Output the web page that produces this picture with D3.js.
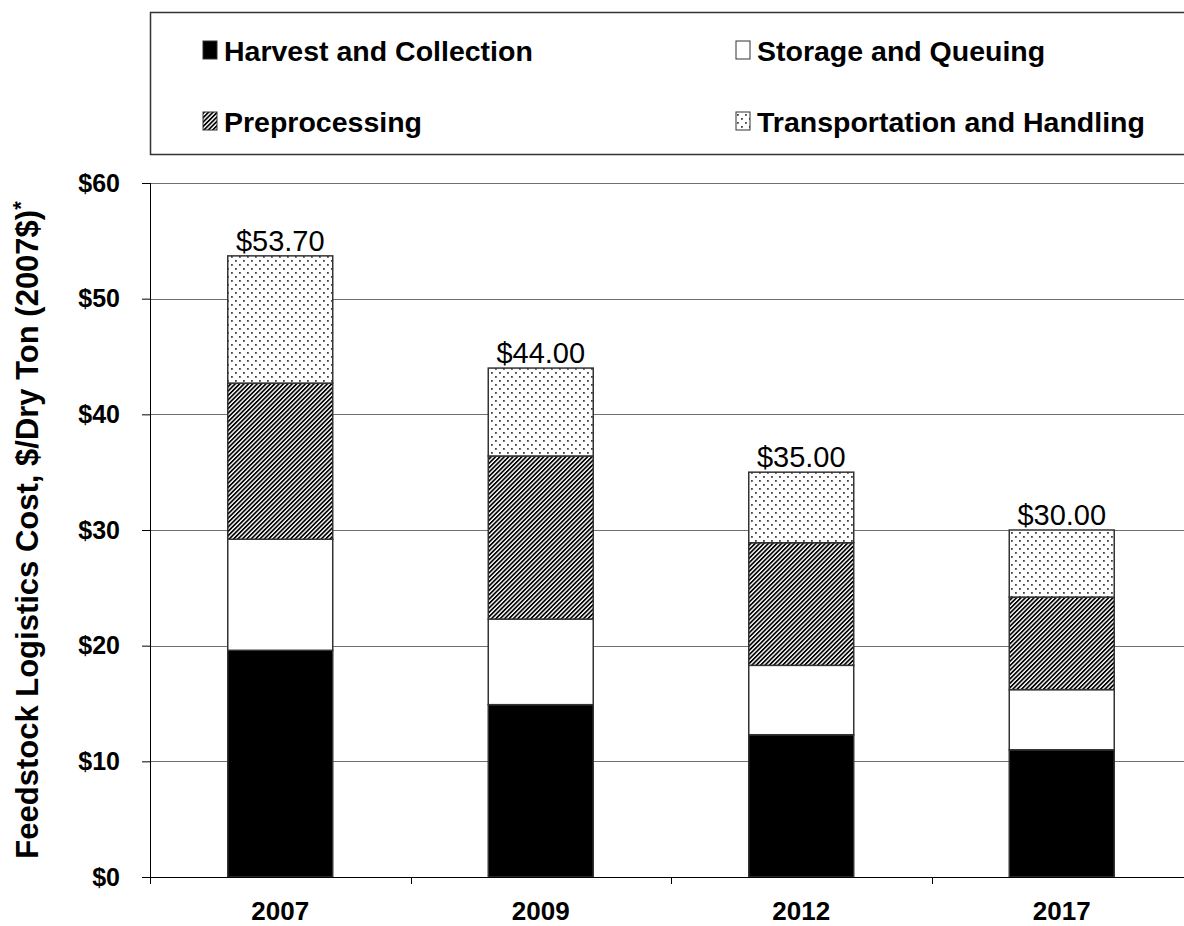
<!DOCTYPE html>
<html>
<head>
<meta charset="utf-8">
<script src="https://cdn.jsdelivr.net/npm/d3@7"></script>
<style>
  html, body { margin: 0; padding: 0; background: #fff; }
  svg { display: block; font-family: Arial, "Liberation Sans", sans-serif; }
</style>
</head>
<body>
<div id="chart"></div>
<script>
(function() {
    'use strict';

    // Data
    var years = ['2007', '2009', '2012', '2017'];
    var harvest = [19.6, 14.9, 12.3, 11.0];
    var storage = [9.6, 7.4, 6.0, 5.2];
    var preprocessing = [13.5, 14.1, 10.6, 8.0];
    var transport = [11.0, 7.6, 6.1, 5.8];
    var totalLabels = ['$53.70', '$44.00', '$35.00', '$30.00'];
    var yTicks = [0, 10, 20, 30, 40, 50, 60];
    var seriesNames = ['Harvest and Collection', 'Storage and Queuing', 'Preprocessing', 'Transportation and Handling'];

    var W = 1184, H = 926;
    var margin = { left: 150, top: 183, right: -8, bottom: 49 };
    var plotW = W - margin.left - margin.right;
    var plotH = H - margin.top - margin.bottom;

    var svg = d3.select('#chart').append('svg')
        .attr('width', W)
        .attr('height', H);

    // Patterns
    var defs = svg.append('defs');
    var hatch = defs.append('pattern')
        .attr('id', 'hatch')
        .attr('patternUnits', 'userSpaceOnUse')
        .attr('width', 3.1)
        .attr('height', 3.1)
        .attr('patternTransform', 'rotate(45)');
    hatch.append('rect').attr('width', 3.1).attr('height', 3.1).attr('fill', '#fff');
    hatch.append('rect').attr('width', 1.7).attr('height', 3.1).attr('fill', '#000');

    var dots = defs.append('pattern')
        .attr('id', 'dots')
        .attr('patternUnits', 'userSpaceOnUse')
        .attr('width', 8)
        .attr('height', 8);
    dots.append('rect').attr('width', 8).attr('height', 8).attr('fill', '#fff');
    dots.append('rect').attr('x', 1).attr('y', 1).attr('width', 1.8).attr('height', 1.8).attr('fill', '#444');
    dots.append('rect').attr('x', 5).attr('y', 5).attr('width', 1.8).attr('height', 1.8).attr('fill', '#444');

    var fills = ['#000', '#fff', 'url(#hatch)', 'url(#dots)'];

    var stackRows = years.map(function(y, i) {
        return { year: y, h: harvest[i], s: storage[i], p: preprocessing[i], t: transport[i] };
    });
    var stacked = d3.stack().keys(['h', 's', 'p', 't'])(stackRows);

    var x = d3.scaleBand().domain(years).range([0, plotW]).paddingInner(0.597).paddingOuter(0.2985);
    var y = d3.scaleLinear().domain([0, 60]).range([plotH, 0]);

    var g = svg.append('g').attr('transform', 'translate(' + margin.left + ',' + margin.top + ')');

    // Gridlines
    g.append('g').selectAll('line')
        .data(yTicks.filter(function(d) { return d > 0; }))
        .join('line')
        .attr('x1', 0).attr('x2', plotW)
        .attr('y1', function(d) { return Math.round(y(d)) + 0.5; })
        .attr('y2', function(d) { return Math.round(y(d)) + 0.5; })
        .attr('stroke', '#707070')
        .attr('stroke-width', 1);

    // Bars
    g.append('g').selectAll('g')
        .data(stacked)
        .join('g')
        .attr('fill', function(d, i) { return fills[i]; })
        .selectAll('rect')
        .data(function(d) { return d; })
        .join('rect')
        .attr('x', function(d) { return x(d.data.year); })
        .attr('width', x.bandwidth())
        .attr('y', function(d) { return y(d[1]); })
        .attr('height', function(d) { return y(d[0]) - y(d[1]); })
        .attr('stroke', '#333')
        .attr('stroke-width', 1.5);

    // Total labels
    g.append('g').selectAll('text')
        .data(stacked[3])
        .join('text')
        .attr('x', function(d) { return x(d.data.year) + x.bandwidth() / 2; })
        .attr('y', function(d) { return y(d[1]) - 5; })
        .attr('text-anchor', 'middle')
        .attr('font-size', 29)
        .attr('fill', '#000')
        .text(function(d, i) { return totalLabels[i]; });

    // Y axis
    var yAxis = g.append('g')
        .call(d3.axisLeft(y).tickValues(yTicks).tickSize(8).tickPadding(22)
            .tickFormat(function(d) { return '$' + d; }));
    yAxis.select('.domain').attr('stroke', '#000').attr('d', 'M0.5,0V' + plotH);
    yAxis.selectAll('.tick line').attr('stroke', '#000');
    yAxis.selectAll('.tick text')
        .attr('font-size', 25)
        .attr('font-weight', 'bold')
        .attr('font-family', 'Arial, "Liberation Sans", sans-serif')
        .attr('fill', '#000');

    // X axis with ticks at category boundaries
    var xAxis = g.append('g').attr('transform', 'translate(0,' + plotH + ')');
    xAxis.append('line')
        .attr('x1', 0).attr('x2', plotW).attr('y1', 0.5).attr('y2', 0.5)
        .attr('stroke', '#000');
    var step = x.step();
    xAxis.selectAll('.xt')
        .data(d3.range(years.length + 1))
        .join('line')
        .attr('class', 'xt')
        .attr('x1', function(d) { return Math.round(d * step) + 0.5; })
        .attr('x2', function(d) { return Math.round(d * step) + 0.5; })
        .attr('y1', 0).attr('y2', 7)
        .attr('stroke', '#000');
    xAxis.selectAll('.xl')
        .data(years)
        .join('text')
        .attr('class', 'xl')
        .attr('x', function(d) { return x(d) + x.bandwidth() / 2; })
        .attr('y', 43)
        .attr('text-anchor', 'middle')
        .attr('font-size', 26)
        .attr('font-weight', 'bold')
        .text(function(d) { return d; });

    // Y axis title
    var title = svg.append('text')
        .attr('transform', 'translate(38,' + (margin.top + plotH / 2) + ') rotate(-90)')
        .attr('text-anchor', 'middle')
        .attr('font-size', 31)
        .attr('font-weight', 'bold');
    title.append('tspan').text('Feedstock Logistics Cost, $/Dry Ton (2007$)');
    title.append('tspan').attr('dy', -10).attr('font-size', 22).text('*');

    // Legend box
    var legend = svg.append('g');
    legend.append('rect')
        .attr('x', 150.5).attr('y', 12.5)
        .attr('width', W).attr('height', 142)
        .attr('fill', '#fff')
        .attr('stroke', '#333')
        .attr('stroke-width', 1.5);

    var legendPos = [[203, 50], [736, 50], [203, 121], [736, 121]];
    var item = legend.selectAll('.li')
        .data(seriesNames)
        .join('g')
        .attr('class', 'li')
        .attr('transform', function(d, i) { return 'translate(' + legendPos[i][0] + ',' + legendPos[i][1] + ')'; });
    item.append('rect')
        .attr('x', 0).attr('y', -9)
        .attr('width', 14).attr('height', 18)
        .attr('fill', function(d, i) { return fills[i]; })
        .attr('stroke', '#333')
        .attr('stroke-width', 1);
    item.append('text')
        .attr('x', 21).attr('y', 11)
        .attr('font-size', 28.5)
        .attr('font-weight', 'bold')
        .text(function(d) { return d; });
})();
</script>
</body>
</html>
